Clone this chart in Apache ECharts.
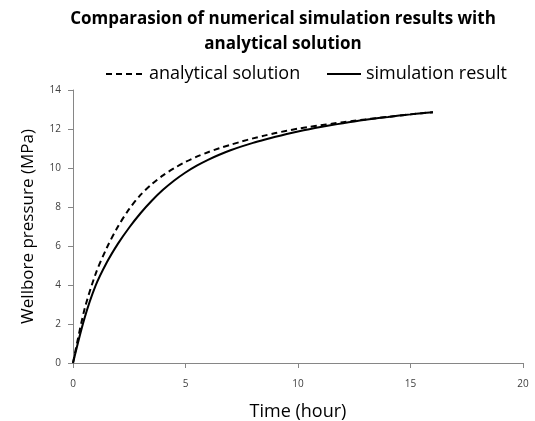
<!DOCTYPE html>
<html><head><meta charset="utf-8">
<script src="https://cdn.jsdelivr.net/npm/echarts@6/dist/echarts.min.js"></script>
<style>html,body{margin:0;padding:0;background:#fff}#c{width:535px;height:421px}</style>
</head><body><div id="c"></div>
<script>
const timeHours = [0,0.5,1,1.5,2,2.5,3,3.5,4,4.5,5,5.5,6,6.5,7,7.5,8,8.5,9,9.5,10,10.5,11,11.5,12,12.5,13,13.5,14,14.5,15,15.5,16];
const analytical = [0,2.7,4.55,5.9,7.0,7.9,8.62,9.17,9.62,9.99,10.31,10.58,10.81,11.01,11.19,11.36,11.52,11.66,11.79,11.91,12.02,12.11,12.19,12.27,12.35,12.42,12.49,12.56,12.62,12.69,12.75,12.81,12.86];
const simulation = [0,2.25,3.95,5.15,6.12,6.95,7.68,8.32,8.88,9.36,9.77,10.12,10.42,10.68,10.91,11.11,11.29,11.45,11.6,11.74,11.87,11.99,12.1,12.2,12.3,12.39,12.47,12.55,12.62,12.69,12.75,12.81,12.86];
const seriesNames = ['analytical solution','simulation result'];
const FONT = 'Open Sans';
const chart = echarts.init(document.getElementById('c'));
const pair = arr => timeHours.map((t,i)=>[t,arr[i]]);
const legendText = {fontFamily:FONT,fontSize:18,color:'#000'};
chart.setOption({
  animation:false,
  backgroundColor:'#fff',
  title:{text:'Comparasion of numerical simulation results with\nanalytical solution',left:278,textAlign:'center',top:2,
    textStyle:{fontFamily:FONT,fontSize:17,fontWeight:'bold',color:'#000',lineHeight:25}},
  legend:[
    {data:[seriesNames[0]],left:100,top:60,itemWidth:38,itemHeight:14,itemGap:4,itemStyle:{opacity:0},textStyle:legendText},
    {data:[seriesNames[1]],left:321,top:60,itemWidth:34,itemHeight:14,itemGap:4,itemStyle:{opacity:0},textStyle:legendText}
  ],
  grid:{left:73,right:12,top:90,bottom:58,containLabel:false,outerBoundsMode:'none'},
  xAxis:{type:'value',min:0,max:20,interval:5,name:'Time (hour)',nameLocation:'middle',nameGap:40,
    nameTextStyle:{fontFamily:FONT,fontSize:18,color:'#000'},
    axisLine:{lineStyle:{color:'#868686'}},axisTick:{show:true,length:5,lineStyle:{color:'#868686'}},
    axisLabel:{fontFamily:FONT,fontSize:10,color:'#404040',margin:16},splitLine:{show:false}},
  yAxis:{type:'value',min:0,max:14,interval:2,name:'Wellbore pressure (MPa)',nameLocation:'middle',nameGap:36,
    nameTextStyle:{fontFamily:FONT,fontSize:17,color:'#000'},
    axisLine:{show:true,lineStyle:{color:'#868686'}},axisTick:{show:true,length:5,lineStyle:{color:'#868686'}},
    axisLabel:{fontFamily:FONT,fontSize:10,color:'#404040',margin:12},splitLine:{show:false}},
  series:[
    {name:seriesNames[0],type:'line',data:pair(analytical),smooth:0.3,showSymbol:false,symbol:'none',
      lineStyle:{color:'#000',width:2,type:[6,4]},itemStyle:{color:'#000'}},
    {name:seriesNames[1],type:'line',data:pair(simulation),smooth:0.3,showSymbol:false,symbol:'none',
      lineStyle:{color:'#000',width:2,type:'solid'},itemStyle:{color:'#000'}}
  ]
});
</script></body></html>
